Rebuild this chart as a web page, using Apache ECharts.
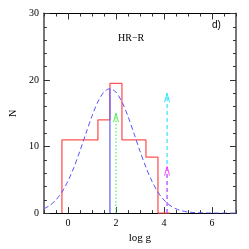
<!DOCTYPE html>
<html>
<head>
<meta charset="utf-8">
<script src="https://cdn.jsdelivr.net/npm/echarts@6/dist/echarts.min.js"></script>
<style>html,body{margin:0;padding:0;background:#fff}#c{width:249px;height:249px}</style>
</head>
<body>
<div id="c"></div>
<script>
// Histogram (bin edges and counts)
const binEdges = [-0.25, 0.25, 0.75, 1.25, 1.75, 2.25, 2.75, 3.25, 3.75, 4.25];
const binCounts = [11, 11, 11, 14, 19.5, 11, 11, 8.4, 0];
// Gaussian fit curve
const gaussX = [-1,-0.75,-0.5,-0.25,0,0.25,0.5,0.75,1,1.25,1.5,1.75,2,2.25,2.5,2.75,3,3.25,3.5,3.75,4,4.25,4.5,4.75,5,5.25,5.5,5.75,6,6.25,6.5,6.75,7];
const gaussY = [0.65,1.16,1.97,3.15,4.79,6.87,9.33,11.98,14.56,16.73,18.19,18.7,18.19,16.73,14.56,11.98,9.33,6.87,4.79,3.15,1.97,1.16,0.65,0.34,0.17,0.08,0.04,0.02,0.01,0,0,0,0];
// Mean marker (solid vertical line)
const meanX = 1.75;
const meanTop = 18.7;
// Arrows
const arrowX = [2.0, 4.13, 4.13];
const arrowTop = [15, 18, 7];
const arrowColor = ['#55ee55', '#33e0ff', '#ff44ff'];
const arrowDash = [[1.5, 2], [4, 3], [4, 3]];
// Tick labels
const xLabels = [0, 2, 4, 6];
const yLabels = [0, 10, 20, 30];

const serif = "'Liberation Serif','DejaVu Serif',serif";

const histPts = [[binEdges[0], 0]];
binCounts.forEach((v, i) => { histPts.push([binEdges[i], v]); histPts.push([binEdges[i + 1], v]); });
histPts.push([binEdges[binEdges.length - 1], 0]);

const gaussPts = gaussX.map((x, i) => [x, gaussY[i]]);

function xAx(pos, minor, labels) {
  const a = {
    type: 'value', position: pos, min: -1, max: 7, gridIndex: 0,
    splitLine: { show: false },
    axisLine: { show: minor, onZero: false, lineStyle: { color: '#000', width: 1 } },
    axisLabel: { show: false },
  };
  if (minor) {
    a.interval = 0.5;
    a.axisTick = { inside: true, length: 3, lineStyle: { color: '#333' } };
  } else {
    a.axisTick = { inside: true, length: 6, customValues: xLabels, lineStyle: { color: '#333' } };
  }
  if (labels) {
    a.axisLabel = { show: true, customValues: xLabels, fontFamily: serif, fontSize: 10, color: '#000', margin: 5 };
    a.name = 'log g';
    a.nameLocation = 'middle';
    a.nameGap = 17;
    a.nameTextStyle = { fontFamily: serif, fontSize: 11, color: '#000' };
  }
  return a;
}
function yAx(pos, minor, labels) {
  const a = {
    type: 'value', position: pos, min: 0, max: 30, gridIndex: 0,
    interval: minor ? 2 : 10,
    splitLine: { show: false },
    axisLine: { show: minor, onZero: false, lineStyle: { color: '#777', width: 2 } },
    axisTick: { inside: true, length: minor ? 3 : 6, lineStyle: { color: '#333' } },
    axisLabel: { show: false },
  };
  if (labels) {
    a.axisLabel = { show: true, fontFamily: serif, fontSize: 10, color: '#000', margin: 5,
      formatter: v => (v % 10 === 0 ? String(v) : '') };
    a.name = 'N';
    a.nameLocation = 'middle';
    a.nameGap = 22;
    a.nameRotate = 90;
    a.nameTextStyle = { fontFamily: serif, fontSize: 10, color: '#000' };
  }
  return a;
}

const chart = echarts.init(document.getElementById('c'), null, { renderer: 'canvas' });
chart.setOption({
  animation: false,
  backgroundColor: '#fff',
  grid: { left: 27, right: 13, top: 13.5, bottom: 27 },
  xAxis: [xAx('bottom', true, true), xAx('bottom', false, false), xAx('top', true, false), xAx('top', false, false)],
  yAxis: [yAx('left', true, true), yAx('left', false, false), yAx('right', true, false), yAx('right', false, false)],
  graphic: [
    { type: 'text', left: 118, top: 33, style: { text: 'HR\u2212R', font: "10px 'Liberation Serif','DejaVu Serif',serif", fill: '#000' } },
    { type: 'text', left: 212, top: 20, style: { text: 'd)', font: "10px 'Liberation Sans','DejaVu Sans',sans-serif", fill: '#000' } }
  ],
  series: [
    { type: 'line', data: histPts, symbol: 'none', xAxisIndex: 0, yAxisIndex: 0,
      lineStyle: { color: '#ff5555', width: 1.3 }, z: 3 },
    { type: 'line', data: gaussPts, symbol: 'none', smooth: 0.3, xAxisIndex: 0, yAxisIndex: 0,
      lineStyle: { color: '#5555ff', width: 1, type: [5, 3] }, z: 4 },
    { type: 'line', data: [[meanX, 0], [meanX, meanTop]], symbol: 'none', xAxisIndex: 0, yAxisIndex: 0,
      lineStyle: { color: '#6666ff', width: 1.3 }, z: 4 },
    { type: 'custom', xAxisIndex: 0, yAxisIndex: 0, z: 5,
      data: arrowX.map((x, i) => [x, arrowTop[i], i]),
      renderItem: function (params, api) {
        const x = api.value(0), top = api.value(1), i = api.value(2);
        const p0 = api.coord([x, 0]), p1 = api.coord([x, top]);
        const c = arrowColor[i];
        return { type: 'group', children: [
          { type: 'line', shape: { x1: p0[0], y1: p0[1], x2: p1[0], y2: p1[1] },
            style: { stroke: c, lineWidth: 1.2, lineDash: arrowDash[i], fill: null } },
          { type: 'polyline', shape: { points: [[p1[0] - 2.5, p1[1] + 9], [p1[0], p1[1]], [p1[0] + 2.5, p1[1] + 9]] },
            style: { stroke: c, lineWidth: 1, fill: null } }
        ] };
      }
    }
  ]
});
</script>
</body>
</html>
